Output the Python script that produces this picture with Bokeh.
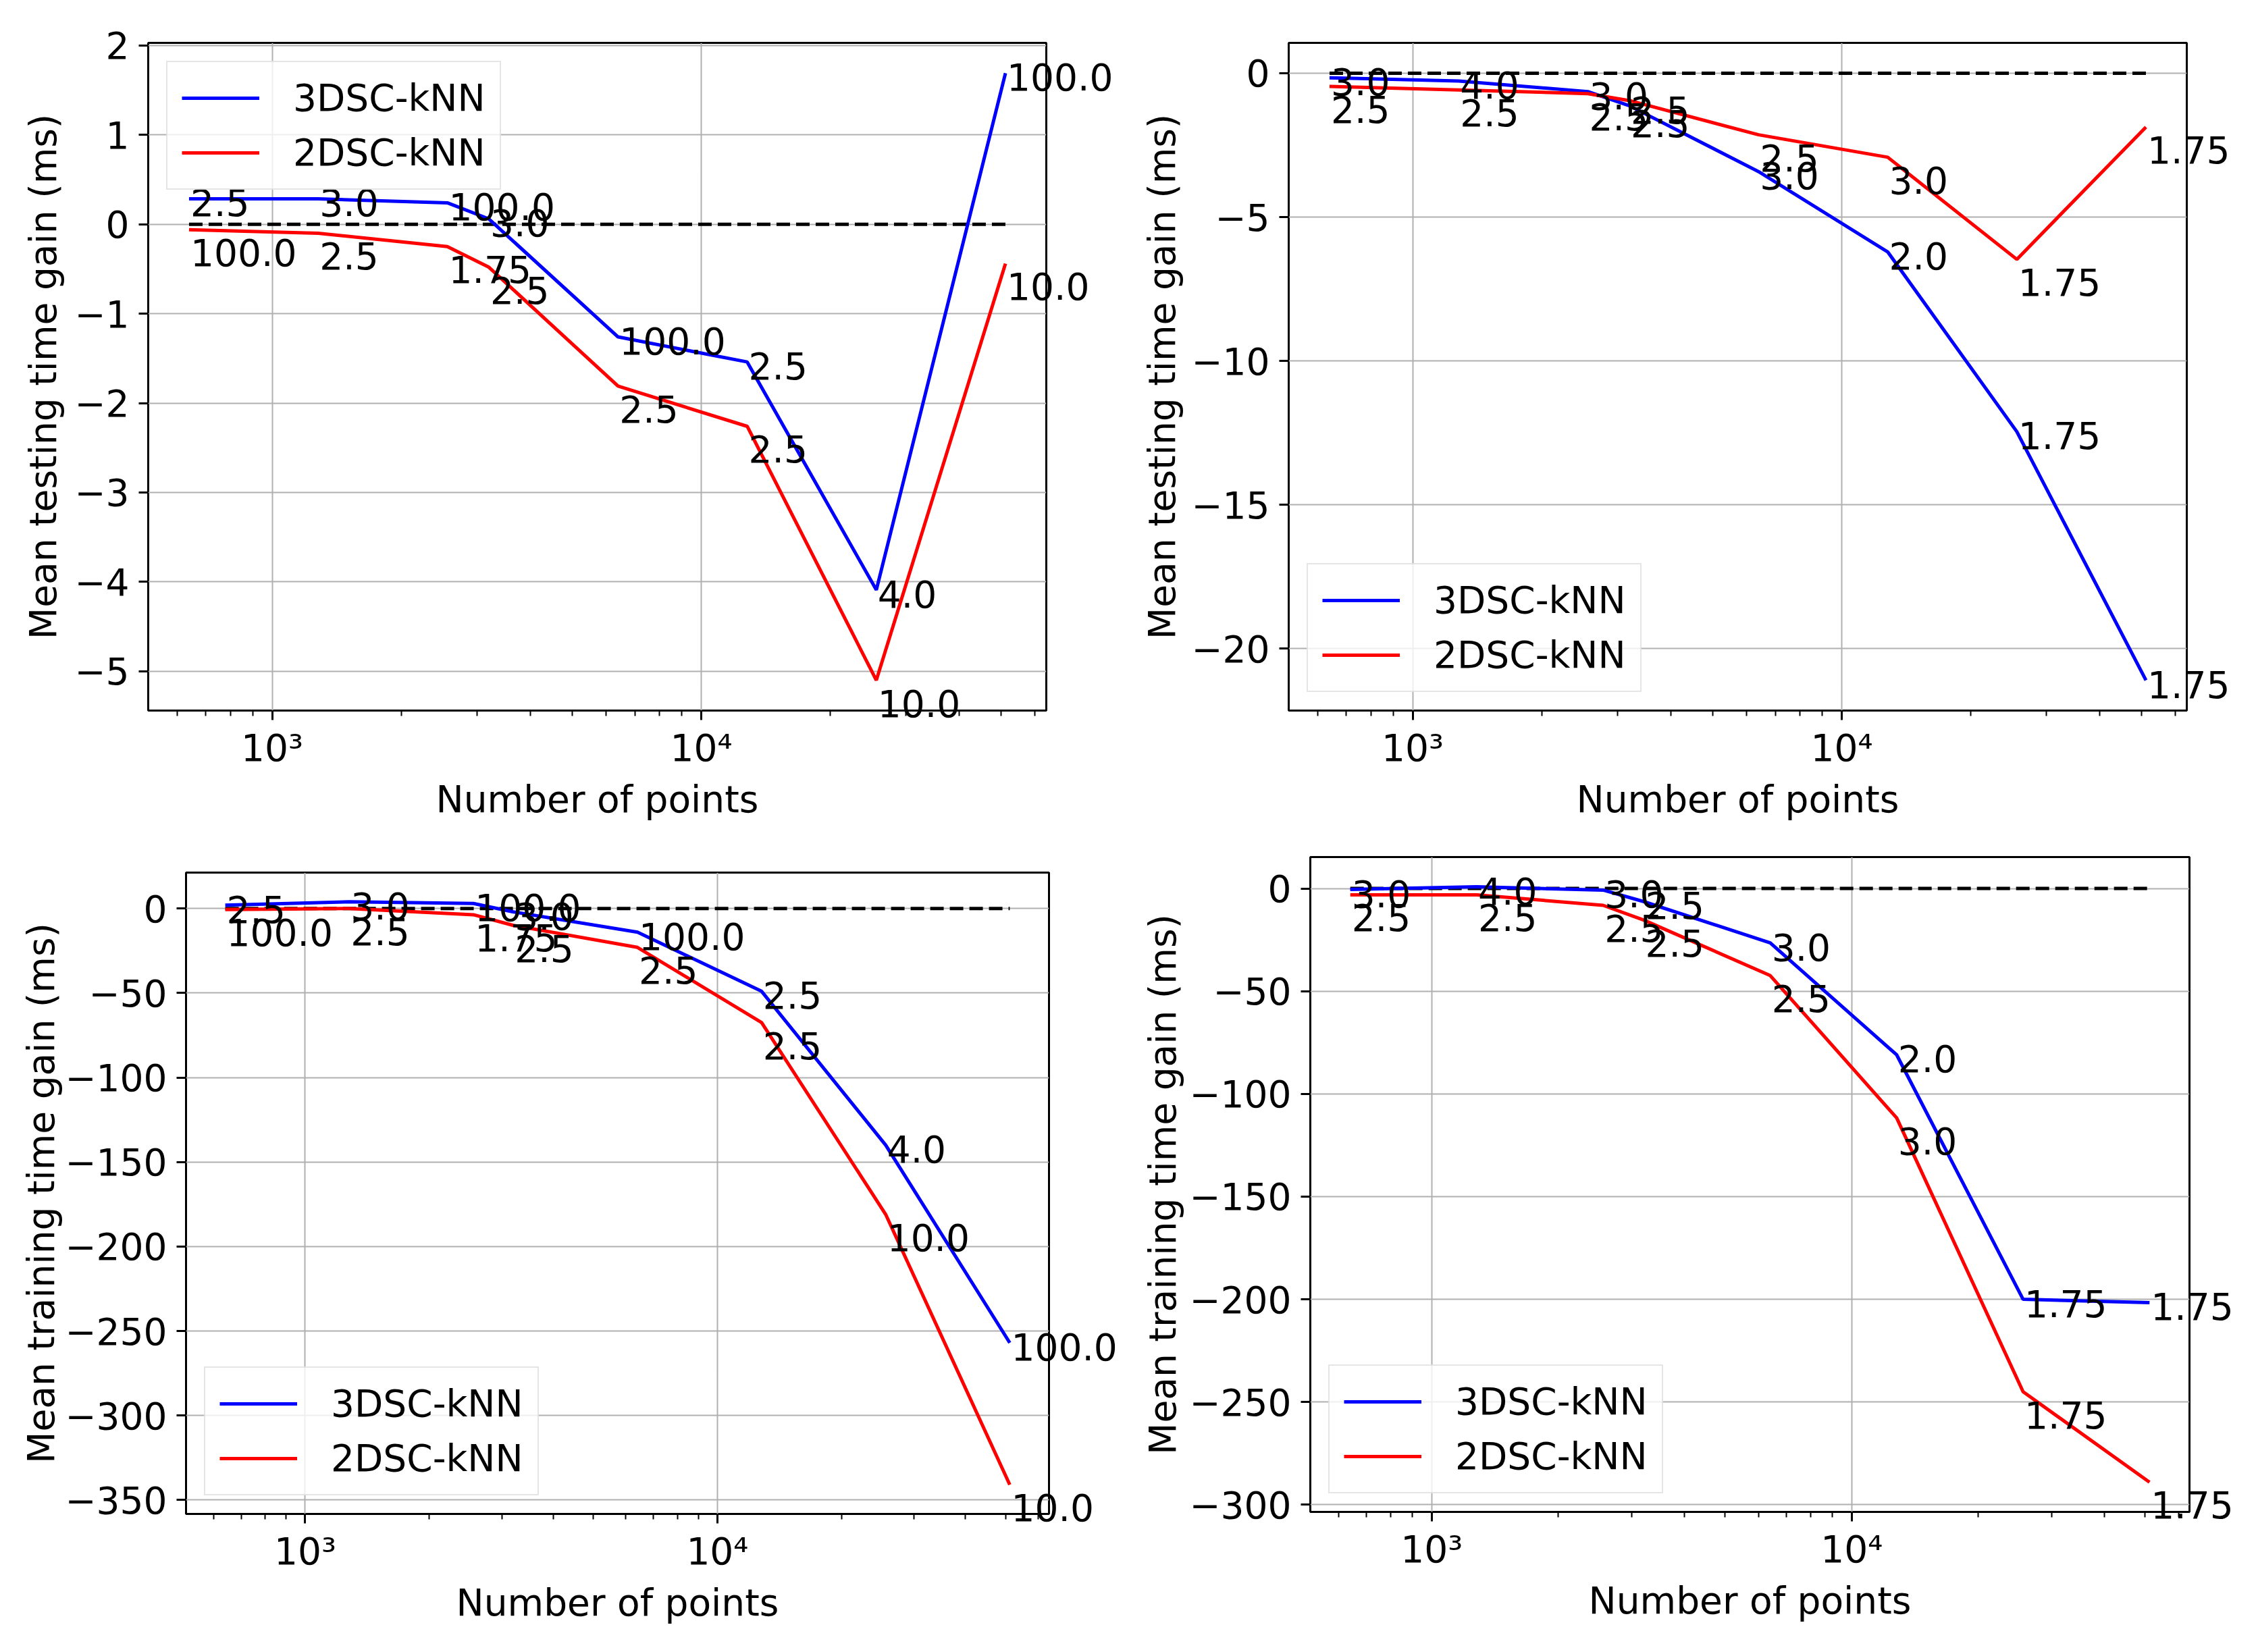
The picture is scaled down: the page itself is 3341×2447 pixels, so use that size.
import math
from bokeh.plotting import figure
from bokeh.models import (ColumnDataSource, FixedTicker, CustomJSTickFormatter, Range1d)
from bokeh.layouts import column, row
from bokeh.embed import file_html
from bokeh.resources import INLINE
from bokeh.core.properties import value

# ---------------- data ----------------
n_points = [640, 1280, 2560, 3200, 6400, 12800, 25600, 51200]

# testing time gain (ms), first configuration
test_3dsc_a = [0.285, 0.285, 0.24, 0.06, -1.26, -1.54, -4.09, 1.69]
test_2dsc_a = [-0.06, -0.10, -0.25, -0.48, -1.81, -2.26, -5.10, -0.44]
# testing time gain (ms), second configuration
test_3dsc_b = [-0.16, -0.27, -0.64, -1.13, -3.42, -6.21, -12.46, -21.10]
test_2dsc_b = [-0.46, -0.58, -0.71, -0.95, -2.14, -2.92, -6.47, -1.87]
# training time gain (ms), first configuration
train_3dsc_a = [2.0, 4.0, 3.0, -2.0, -14.0, -49.0, -140.0, -257.0]
train_2dsc_a = [-0.6, 0.0, -3.7, -10.0, -23.0, -67.5, -181.0, -341.0]
# training time gain (ms), second configuration
train_3dsc_b = [-0.5, 0.8, -0.8, -6.4, -26.5, -81.0, -200.0, -201.6]
train_2dsc_b = [-3.1, -3.1, -8.2, -15.4, -42.4, -111.7, -245.0, -289.0]

# point annotations
labels_3dsc_a = ["2.5", "3.0", "100.0", "3.0", "100.0", "2.5", "4.0", "100.0"]
labels_2dsc_a = ["100.0", "2.5", "1.75", "2.5", "2.5", "2.5", "10.0", "10.0"]
labels_3dsc_b = ["3.0", "4.0", "3.0", "2.5", "3.0", "2.0", "1.75", "1.75"]
labels_2dsc_b = ["2.5", "2.5", "2.5", "2.5", "2.5", "3.0", "1.75", "1.75"]

x_major_ticks = [1000, 10000]
x_minor_ticks = [600, 700, 800, 900, 2000, 3000, 4000, 5000, 6000, 7000, 8000, 9000,
                 20000, 30000, 40000, 50000, 60000]
yticks_test_a = [-5, -4, -3, -2, -1, 0, 1, 2]
yticks_test_b = [-20, -15, -10, -5, 0]
yticks_train_a = [-350, -300, -250, -200, -150, -100, -50, 0]
yticks_train_b = [-300, -250, -200, -150, -100, -50, 0]

series_names = ["3DSC-kNN", "2DSC-kNN"]
x_label = "Number of points"
y_label_test = "Mean testing time gain (ms)"
y_label_train = "Mean training time gain (ms)"

# ---------------- styling ----------------
FONT = "DejaVu Sans"
FS = "55px"
BLUE = "#0000ff"
RED = "#ff0000"

y_fmt_code = "return (tick < 0 ? '\u2212' : '') + Math.abs(tick).toString();"
x_fmt_code = """
const e = Math.round(Math.log10(tick));
const sup = {'0':'\u2070','1':'\u00b9','2':'\u00b2','3':'\u00b3','4':'\u2074','5':'\u2075','6':'\u2076'};
return '10' + String(e).split('').map(c => sup[c]).join('');
"""


def make_panel(y3, y2, l3, l2, ylabel, yticks, legend_loc, fw, fh, bl, br, bt, bb, ylab_standoff):
    lo = min(min(y3), min(y2), 0.0)
    hi = max(max(y3), max(y2), 0.0)
    pad = 0.05 * (hi - lo)
    lx0, lx1 = math.log10(min(n_points)), math.log10(max(n_points))
    lpad = 0.05 * (lx1 - lx0)

    p = figure(x_axis_type="log", title=None,
               x_range=Range1d(10 ** (lx0 - lpad), 10 ** (lx1 + lpad)),
               y_range=Range1d(lo - pad, hi + pad),
               frame_width=fw, frame_height=fh,
               min_border_left=bl, min_border_right=br,
               min_border_top=bt, min_border_bottom=bb,
               output_backend="svg", toolbar_location=None,
               background_fill_color="white", border_fill_color="white")

    # zero reference line
    p.line(x=[n_points[0], n_points[-1]], y=[0, 0], line_color="black",
           line_width=5, line_dash="20 9")

    p.line(n_points, y3, line_color=BLUE, line_width=5, legend_label=series_names[0])
    p.line(n_points, y2, line_color=RED, line_width=5, legend_label=series_names[1])

    # point annotations: text glyphs on the overlay level (not clipped to the frame)
    for ys, ls, off in ((y3, l3, -14), (y2, l2, 14)):
        src = ColumnDataSource(dict(x=n_points, y=ys, t=ls))
        p.text(x="x", y="y", text="t", source=src,
               text_align="left", text_baseline="top",
               x_offset=2, y_offset=off,
               text_font=value(FONT), text_font_size=value(FS),
               text_color="black", level="overlay")

    # axes
    p.xaxis.ticker = FixedTicker(ticks=x_major_ticks, minor_ticks=x_minor_ticks)
    p.xaxis.formatter = CustomJSTickFormatter(code=x_fmt_code)
    p.yaxis.ticker = FixedTicker(ticks=yticks, minor_ticks=[])
    p.yaxis.formatter = CustomJSTickFormatter(code=y_fmt_code)
    p.xaxis.axis_label = x_label
    p.yaxis.axis_label = ylabel
    for ax in (p.xaxis, p.yaxis):
        ax.axis_label_text_font = FONT
        ax.axis_label_text_font_size = FS
        ax.axis_label_text_font_style = "normal"
        ax.axis_label_text_color = "black"
        ax.major_label_text_font = FONT
        ax.major_label_text_font_size = FS
        ax.major_label_text_color = "black"
        ax.axis_line_color = None
        ax.major_tick_in = 0
        ax.major_tick_out = 14
        ax.major_tick_line_width = 3
        ax.major_tick_line_color = "black"
        ax.minor_tick_in = 0
        ax.minor_tick_out = 8
        ax.minor_tick_line_width = 2
        ax.minor_tick_line_color = "black"
    p.xaxis.major_label_standoff = 9
    p.xaxis.axis_label_standoff = 9
    p.yaxis.major_label_standoff = 14
    p.yaxis.axis_label_standoff = ylab_standoff

    p.grid.grid_line_color = "#b0b0b0"
    p.grid.grid_line_width = 2
    p.outline_line_color = "black"
    p.outline_line_width = 3
    p.outline_line_alpha = 1.0

    lg = p.legend[0]
    lg.location = legend_loc
    lg.margin = 27
    lg.padding = 21
    lg.spacing = 17
    lg.glyph_width = 115
    lg.glyph_height = 60
    lg.label_height = 60
    lg.label_standoff = 50
    lg.label_text_font = FONT
    lg.label_text_font_size = FS
    lg.label_text_color = "black"
    lg.border_line_color = "#cccccc"
    lg.border_line_width = 2
    lg.background_fill_alpha = 0.8
    return p


p1 = make_panel(test_3dsc_a, test_2dsc_a, labels_3dsc_a, labels_2dsc_a, y_label_test,
                yticks_test_a, "top_left", 1330, 989, 219, 119, 63, 180, 11)
p2 = make_panel(test_3dsc_b, test_2dsc_b, labels_3dsc_b, labels_2dsc_b, y_label_test,
                yticks_test_b, "bottom_left", 1330, 989, 240, 85, 63, 180, 8)
p3 = make_panel(train_3dsc_a, train_2dsc_a, labels_3dsc_a, labels_2dsc_a, y_label_train,
                yticks_train_a, "bottom_left", 1278, 950, 275, 112, 60, 187, 0)
p4 = make_panel(train_3dsc_b, train_2dsc_b, labels_3dsc_b, labels_2dsc_b, y_label_train,
                yticks_train_b, "bottom_left", 1302, 970, 275, 81, 37, 190, 4)

layout = column(row(column(p1), column(p2)), row(column(p3), column(p4)))
open("out.html", "w").write(file_html(layout, INLINE))
